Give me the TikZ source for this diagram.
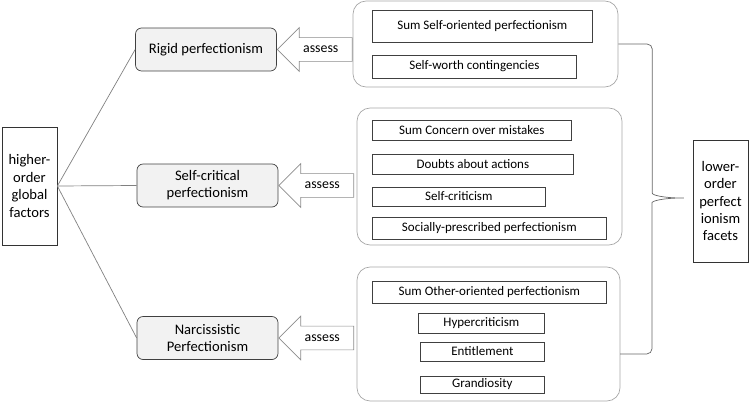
\documentclass[tikz,border=0pt]{standalone}
\usepackage{fontspec}
\setmainfont{Carlito}
\usepackage{xcolor}
\usetikzlibrary{positioning, shapes.arrows}

\begin{document}
\begin{tikzpicture}[
    x=0.02cm, y=-0.02cm,
    factor/.style={rectangle, draw=black!75, fill=black!5, rounded corners=0.12cm, minimum width=2.82cm, minimum height=0.86cm, align=center, font=\fontsize{8.3}{9.8}\selectfont},
    level/.style={rectangle, draw=black!80, minimum width=1.1cm, align=center, font=\fontsize{8.3}{9.9}\selectfont},
    group/.style={rectangle, draw=black!35, rounded corners=0.26cm},
    item/.style={rectangle, draw=black!75, anchor=west, inner sep=0pt, font=\fontsize{7.4}{8.5}\selectfont},
    assess/.style={single arrow, shape border rotate=180, draw=black!45, fill=white, anchor=tip, minimum height=1.5cm, minimum width=0.86cm, single arrow head extend=0.2cm, inner ysep=4.6pt, font=\fontsize{7.9}{9}\selectfont},
    link/.style={draw=black!50},
    brace/.style={draw=black!60, rounded corners=3pt}
]
\useasboundingbox (0,0) rectangle (750,402);

% higher-order and lower-order
\node[level, minimum height=2.36cm] (higher) at (29.5,186) {higher-\\order\\global\\factors};
\node[level, minimum height=2.44cm] (lower) at (720.5,201) {lower-\\order\\perfect\\ionism\\facets};

% global factors
\node[factor] (rigid) at (206,49.5) {Rigid perfectionism};
\node[factor] (selfcrit) at (207.5,185.5) {Self-critical\\perfectionism};
\node[factor] (narc) at (207.5,338) {Narcissistic\\Perfectionism};

\draw[link] (higher.east) -- (rigid.west);
\draw[link] (higher.east) -- (selfcrit.west);
\draw[link] (higher.east) -- (narc.west);

% groups of facets
\node[group, minimum width=5.3cm, minimum height=1.72cm] (g1) at (485.5,44) {};
\node[group, minimum width=5.3cm, minimum height=2.74cm] (g2) at (489.5,176.5) {};
\node[group, minimum width=5.26cm, minimum height=2.68cm] (g3) at (488.5,334) {};

\node[item, minimum width=4.4cm, minimum height=0.64cm] (sop) at (372,26) {Sum Self-oriented perfectionism};
\node[item, minimum width=4.08cm, minimum height=0.46cm] (swc) at (372,66.5) {Self-worth contingencies};

\node[item, minimum width=3.98cm, minimum height=0.4cm] (com) at (372,130) {Sum Concern over mistakes};
\node[item, minimum width=4.02cm, minimum height=0.4cm] (doubts) at (372,164) {Doubts about actions};
\node[item, minimum width=3.46cm, minimum height=0.38cm] (critic) at (372,196.5) {Self-criticism};
\node[item, minimum width=4.68cm, minimum height=0.44cm] (spp) at (372,228) {Socially-prescribed perfectionism};

\node[item, minimum width=4.68cm, minimum height=0.44cm] (oop) at (372,292) {Sum Other-oriented perfectionism};
\node[item, minimum width=2.52cm, minimum height=0.4cm] (hyper) at (418,323) {Hypercriticism};
\node[item, minimum width=2.48cm, minimum height=0.38cm] (entitle) at (420,351.5) {Entitlement};
\node[item, minimum width=2.48cm, minimum height=0.34cm] (grand) at (420,384.5) {Grandiosity};

% assess arrows
\node[assess] (a1) at (rigid.east) {assess};
\node[assess] (a2) at (selfcrit.east) {assess};
\node[assess] (a3) at (narc.east) {assess};

% brace
\coordinate (braceTip) at (687,198);
\draw[brace] (g1.east) -- ++(34,0) -- ++(0,144) .. controls +(0,7) and +(-24,0) .. (braceTip)
    .. controls +(-24,0) and +(0,-7) .. (652,208) -- ++(0,146) -- ++(-32,0);

\end{tikzpicture}
\end{document}
